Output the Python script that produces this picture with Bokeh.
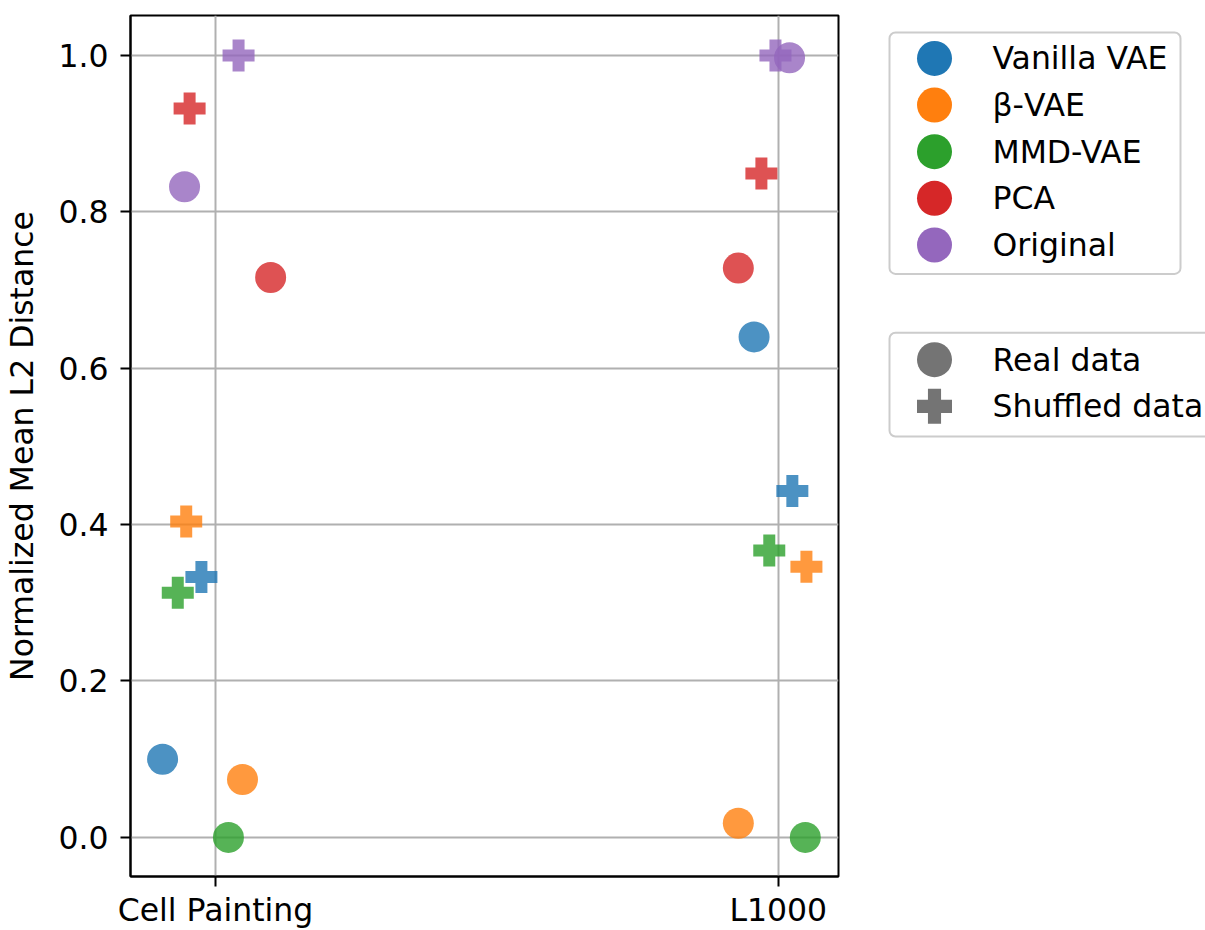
import math
from bokeh.plotting import figure
from bokeh.layouts import row
from bokeh.models import (FixedTicker, Range1d, ColumnDataSource,
                          NumeralTickFormatter, BoxAnnotation)
from bokeh.core.properties import value
from bokeh.embed import file_html
from bokeh.resources import INLINE

# ---------------- data ----------------
datasets = ["Cell Painting", "L1000"]
models = ["Vanilla VAE", "β-VAE", "MMD-VAE", "PCA", "Original"]
colors = ["#1f77b4", "#ff7f0e", "#2ca02c", "#d62728", "#9467bd"]
kinds = ["Real data", "Shuffled data"]
kind_markers = ["circle", "plus"]

# normalized mean L2 distance, per model (order as in `models`)
cp_real = [0.100, 0.074, 0.000, 0.716, 0.832]
cp_shuffled = [0.333, 0.404, 0.313, 0.932, 1.000]
l1000_real = [0.640, 0.018, 0.000, 0.728, 0.997]
l1000_shuffled = [0.443, 0.346, 0.367, 0.849, 1.000]

# horizontal jitter of each point around its dataset category
cp_real_jitter = [-0.094, 0.048, 0.023, 0.098, -0.055]
cp_shuffled_jitter = [-0.025, -0.052, -0.067, -0.046, 0.041]
l1000_real_jitter = [-0.043, -0.071, 0.048, -0.071, 0.020]
l1000_shuffled_jitter = [0.025, 0.050, -0.016, -0.030, -0.005]

y_ticks = [0.0, 0.2, 0.4, 0.6, 0.8, 1.0]

# ---------------- main figure ----------------
FONT = "DejaVu Sans"
FS = "31.5px"
W_MAIN, H = 840, 930
TOP, BOTTOM = 15, 52
p = figure(width=W_MAIN, height=H, output_backend="svg", toolbar_location=None,
           x_range=Range1d(-0.151, 1.107), y_range=Range1d(-0.05, 1.051),
           min_border_left=130, min_border_right=2, min_border_top=TOP,
           min_border_bottom=BOTTOM)

p.outline_line_color = "black"
p.outline_line_width = 2
p.outline_line_alpha = 1

for ax in (p.xaxis[0], p.yaxis[0]):
    ax.axis_line_color = "black"
    ax.axis_line_width = 2
    ax.major_tick_line_color = "black"
    ax.major_tick_line_width = 2
    ax.major_tick_in = 0
    ax.major_tick_out = 10
    ax.minor_tick_line_color = None
    ax.major_label_text_font = FONT
    ax.major_label_text_font_size = FS
    ax.major_label_text_color = "black"

p.xaxis.ticker = FixedTicker(ticks=list(range(len(datasets))))
p.xaxis.major_label_overrides = {i: d for i, d in enumerate(datasets)}
p.xaxis.major_label_standoff = 5

p.yaxis.ticker = FixedTicker(ticks=y_ticks)
p.yaxis.formatter = NumeralTickFormatter(format="0.0")
p.yaxis.major_label_standoff = 12
p.yaxis.axis_label = "Normalized Mean L2 Distance"
p.yaxis.axis_label_text_font = FONT
p.yaxis.axis_label_text_font_size = FS
p.yaxis.axis_label_text_font_style = "normal"
p.yaxis.axis_label_text_color = "black"
p.yaxis.axis_label_standoff = 15

for g in (p.xgrid[0], p.ygrid[0]):
    g.grid_line_color = "#b0b0b0"
    g.grid_line_width = 2
    g.grid_line_alpha = 1

series = [
    (0, cp_real, cp_real_jitter, "circle", 31),
    (0, cp_shuffled, cp_shuffled_jitter, "plus", 32),
    (1, l1000_real, l1000_real_jitter, "circle", 31),
    (1, l1000_shuffled, l1000_shuffled_jitter, "plus", 32),
]
for i, m in enumerate(models):
    for ds_idx, vals, jit, marker, size in series:
        src = ColumnDataSource(dict(x=[ds_idx + jit[i]], y=[vals[i]]))
        p.scatter("x", "y", source=src, marker=marker, size=size,
                  fill_color=colors[i], fill_alpha=0.8, line_color=None)

# ---------------- legend panel (pixel coordinates, y measured from bottom of page) ----------------
LW = 1205 - W_MAIN
leg = figure(width=LW, height=H, output_backend="svg", toolbar_location=None,
             x_range=Range1d(0, LW), y_range=Range1d(BOTTOM, H - TOP),
             x_axis_location=None, y_axis_location=None,
             min_border_left=0, min_border_right=0,
             min_border_top=TOP, min_border_bottom=BOTTOM)
leg.outline_line_color = None
leg.grid.visible = False

BOX_L, BOX_R = 49, 340
GLYPH_X, TEXT_X = 94, 152
ROW_H = 46.75


def draw_legend(labels, markers, fills, top, first_row, bottom, right):
    leg.add_layout(BoxAnnotation(left=BOX_L, right=right, top=top, bottom=bottom,
                                 fill_color="white", fill_alpha=0.8,
                                 line_color="#cccccc", line_width=2, line_alpha=1,
                                 border_radius=6, level="underlay"))
    ys = [first_row - k * ROW_H for k in range(len(labels))]
    for k in range(len(labels)):
        leg.scatter([GLYPH_X], [ys[k]], marker=markers[k], size=35,
                    fill_color=fills[k], line_color=None)
    leg.text(x=[TEXT_X] * len(labels), y=ys, text=labels,
             text_font=value(FONT), text_font_size=FS, text_color="black",
             text_baseline="middle", text_align="left")


draw_legend(models, ["circle"] * len(models), colors,
            top=898, first_row=872, bottom=656, right=BOX_R)
draw_legend(kinds, kind_markers, ["#747474"] * len(kinds),
            top=597, first_row=570, bottom=493, right=LW + 20)

layout = row(p, leg)
open("out.html", "w").write(file_html(layout, INLINE))
